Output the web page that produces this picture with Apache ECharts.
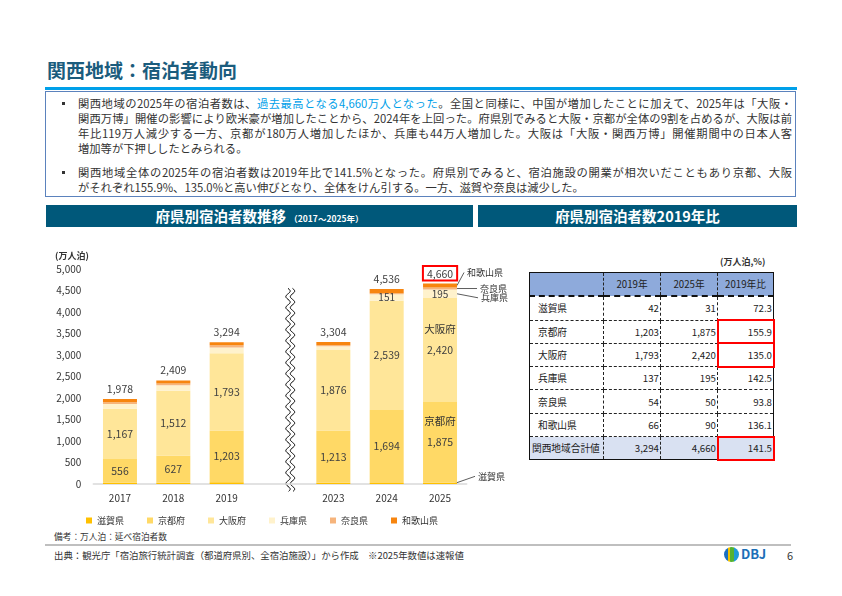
<!DOCTYPE html>
<html>
<head>
<meta charset="utf-8">
<title>関西地域：宿泊者動向</title>
<script src="https://cdn.jsdelivr.net/npm/echarts@6/dist/echarts.min.js"></script>
<style>
    body { margin:0; width:842px; height:596px; position:relative; background:#fff; overflow:hidden;
           font-family:"Noto Sans CJK JP", "Noto Sans", sans-serif; color:#333; }
    .abs { position:absolute; white-space:nowrap; }
    #title { left:47px; top:57px; font-size:19px; line-height:26px; font-weight:bold; color:#1b5c7d; }
    #rule { left:45px; top:87px; width:752px; height:3px; background:#00a0e9; }
    #box { left:45px; top:91px; width:749px; height:104px; border:1px solid #5b82bd; }
    .ln { position:absolute; left:78px; width:714px; font-size:11.3px; line-height:15px; white-space:nowrap;
          text-align:justify; text-align-last:justify; color:#333; }
    .ln.last { text-align-last:left; }
    .hi { color:#00a0e9; }
    .dot { position:absolute; left:62px; width:2.5px; height:2.5px; background:#333; }
    .bar { position:absolute; top:205px; height:22px; background:#00587a; color:#fff; font-weight:bold;
           font-size:14.5px; line-height:22px; text-align:center; white-space:nowrap; }
    .bar small { font-size:8.5px; font-weight:bold; }
    #chart { position:absolute; left:40px; top:240px; width:480px; height:290px; }
    #unit { left:720px; top:255px; font-size:9px; font-weight:bold; line-height:14px; }
    #tbl { position:absolute; left:529px; top:272px; border-collapse:collapse; table-layout:fixed;
           font-size:9.7px; border:1px solid #111; color:#222; }
    #tbl td { height:22.3px; padding:0; border:1px dashed #222; white-space:nowrap; }
    #tbl tr.head td { background:#8eaadb; text-align:center; border-bottom:2px dashed #111; }
    #tbl td.nm { padding-left:8px; }
    #tbl td.num { text-align:right; padding-right:1px; }
    #tbl tr.sum td { background:#d9e1f2; }
    #tbl tr.sum td.nm { padding-left:2px; }
    #tbl td.hl { outline:2px solid #ff0000; outline-offset:-1px; }
    #note { left:54px; top:530px; font-size:8.7px; line-height:14px; }
    #hr { left:45px; top:544px; width:746px; height:2px; background:#bfbfbf; }
    #src { left:54px; top:548px; font-size:9.4px; line-height:14px; }
    #logo { left:724px; top:547px; width:15px; height:15px; border-radius:50%;
            background:linear-gradient(90deg,#1b6fc1 0 30%,#f2c200 30% 42%,#55b230 42% 68%,#1e9bd7 68%); }
    #dbj { left:741px; top:545px; font-size:13px; line-height:18px; font-weight:bold; color:#1c6fb8; }
    #page { left:787px; top:548px; font-size:11px; line-height:14px; }
</style>
</head>
<body>
<div class="abs" id="title">関西地域：宿泊者動向</div>
<div class="abs" id="rule"></div>
<div class="abs" id="box"></div>

<div class="dot" style="top:102px"></div>
<div class="ln" style="top:95.5px">関西地域の2025年の宿泊者数は、<span class="hi">過去最高となる4,660万人となった</span>。全国と同様に、中国が増加したことに加えて、2025年は「大阪・</div>
<div class="ln" style="top:110.5px">関西万博」開催の影響により欧米豪が増加したことから、2024年を上回った。府県別でみると大阪・京都が全体の9割を占めるが、大阪は前</div>
<div class="ln" style="top:125.5px">年比119万人減少する一方、京都が180万人増加したほか、兵庫も44万人増加した。大阪は「大阪・関西万博」開催期間中の日本人客</div>
<div class="ln last" style="top:140.5px">増加等が下押ししたとみられる。</div>
<div class="dot" style="top:171px"></div>
<div class="ln" style="top:164.5px">関西地域全体の2025年の宿泊者数は2019年比で141.5%となった。府県別でみると、宿泊施設の開業が相次いだこともあり京都、大阪</div>
<div class="ln last" style="top:179.5px">がそれぞれ155.9%、135.0%と高い伸びとなり、全体をけん引する。一方、滋賀や奈良は減少した。</div>

<div class="bar" style="left:46px;width:427px">府県別宿泊者数推移 <small>（2017～2025年）</small></div>
<div class="bar" style="left:478px;width:319px">府県別宿泊者数2019年比</div>

<div id="chart"></div>

<div class="abs" id="unit">(万人泊,%)</div>
<table id="tbl">
    <colgroup><col style="width:74px"><col style="width:57px"><col style="width:57px"><col style="width:56px"></colgroup>
    <tbody id="tbody"></tbody>
</table>

<div class="abs" id="note">備考：万人泊：延べ宿泊者数</div>
<div class="abs" id="hr"></div>
<div class="abs" id="src">出典：観光庁「宿泊旅行統計調査（都道府県別、全宿泊施設）」から作成　※2025年数値は速報値</div>
<div class="abs" id="logo"></div>
<div class="abs" id="dbj">DBJ</div>
<div class="abs" id="page">6</div>

<script type="text/javascript">
    // 年次（2019と2023の間は省略の空き枠）
    var years = ['2017', '2018', '2019', '', '2023', '2024', '2025'];
    var shiga    = [27, 30, 42, null, 30, 26, 31];
    var kyoto    = [556, 627, 1203, null, 1213, 1694, 1875];
    var osaka    = [1167, 1512, 1793, null, 1876, 2539, 2420];
    var hyogo    = [110, 125, 137, null, 82, 151, 195];
    var nara     = [43, 45, 54, null, 25, 28, 50];
    var wakayama = [75, 70, 66, null, 78, 98, 90];
    var totals   = [1978, 2409, 3294, null, 3304, 4536, 4660];

    // 表：2019年比
    var prefs = ['滋賀県', '京都府', '大阪府', '兵庫県', '奈良県', '和歌山県', '関西地域合計値'];
    var v2019 = [42, 1203, 1793, 137, 54, 66, 3294];
    var v2025 = [31, 1875, 2420, 195, 50, 90, 4660];
    var ratio = [72.3, 155.9, 135.0, 142.5, 93.8, 136.1, 141.5];
    var marked = [false, true, true, false, false, false, true];

    var names = ['滋賀県', '京都府', '大阪府', '兵庫県', '奈良県', '和歌山県'];
    var colors = ['#ffc000', '#ffd966', '#ffe699', '#fff2cc', '#f6b47c', '#f7850f'];

    function fmt(v) { return v == null ? '' : v.toLocaleString('en-US'); }

    // 表の組み立て
    var rows = '<tr class="head"><td></td><td>2019年</td><td>2025年</td><td>2019年比</td></tr>';
    for (var i = 0; i < prefs.length; i++) {
        rows += '<tr' + (i === prefs.length - 1 ? ' class="sum"' : '') + '>' +
            '<td class="nm">' + prefs[i] + '</td>' +
            '<td class="num">' + fmt(v2019[i]) + '</td>' +
            '<td class="num">' + fmt(v2025[i]) + '</td>' +
            '<td class="num' + (marked[i] ? ' hl' : '') + '">' + ratio[i].toFixed(1) + '</td></tr>';
    }
    document.getElementById('tbody').innerHTML = rows;

    var last = years.length - 1;

    function withName(arr, name) {
        return arr.map(function (v, i) {
            if (i !== last) return v;
            return { value: v, label: { formatter: '{n|' + name + '}\n{v|' + fmt(v) + '}', offset: [0, -10.5] } };
        });
    }

    var myChart = echarts.init(document.getElementById('chart'));
    var option = {
        textStyle: { fontFamily: 'Noto Sans CJK JP' },
        animation: false,
        title: { text: '(万人泊)', left: 10, top: 6, textStyle: { fontSize: 9, fontWeight: 'bold', color: '#333' } },
        legend: {
            data: names, left: 41, top: 271, icon: 'rect', itemWidth: 6, itemHeight: 6, itemGap: 23,
            textStyle: { fontSize: 9, color: '#333' }
        },
        grid: { left: 53.3, right: 53.3, top: 29, bottom: 46 },
        xAxis: {
            type: 'category', data: years,
            axisTick: { show: false },
            axisLine: { lineStyle: { color: '#d9d9d9', width: 1.5 } },
            axisLabel: { fontSize: 10, color: '#333', margin: 9 }
        },
        yAxis: {
            type: 'value', min: 0, max: 5000, interval: 500,
            splitLine: { show: false },
            axisLabel: { fontSize: 10, color: '#333', margin: 12, formatter: fmt }
        },
        series: [
            { name: names[0], type: 'bar', stack: 'all', barWidth: 34, data: shiga },
            { name: names[1], type: 'bar', stack: 'all', data: withName(kyoto, '京都府'),
              label: { show: true, position: 'inside', color: '#404040', fontSize: 10.5,
                       formatter: function (p) { return fmt(p.value); },
                       rich: { n: { fontSize: 10.5, color: '#333', lineHeight: 21 }, v: { fontSize: 10.5, color: '#404040', lineHeight: 21 } } } },
            { name: names[2], type: 'bar', stack: 'all', data: withName(osaka, '大阪府'),
              label: { show: true, position: 'inside', color: '#404040', fontSize: 10.5,
                       formatter: function (p) { return fmt(p.value); },
                       rich: { n: { fontSize: 10.5, color: '#333', lineHeight: 21 }, v: { fontSize: 10.5, color: '#404040', lineHeight: 21 } } } },
            { name: names[3], type: 'bar', stack: 'all', data: hyogo,
              label: { show: true, position: 'inside', color: '#404040', fontSize: 10,
                       formatter: function (p) { return p.value >= 150 ? fmt(p.value) : ''; } } },
            { name: names[4], type: 'bar', stack: 'all', data: nara },
            { name: names[5], type: 'bar', stack: 'all',
              data: wakayama.map(function (v, i) {
                  if (i !== last) return v;
                  return { value: v, label: { borderColor: '#ff0000', borderWidth: 2, padding: [3, 4, 1, 4], distance: 3 } };
              }),
              label: { show: true, position: 'top', distance: 5, color: '#404040', fontSize: 10.5,
                       formatter: function (p) { return fmt(totals[p.dataIndex]); } } }
        ],
        color: colors
    };
    myChart.setOption(option);

    // 省略記号と2025年の府県名注記
    function px(i, v) { return myChart.convertToPixel({ gridIndex: 0 }, [i, v]); }
    var gap = px(3, 0);
    var topY = px(3, 4550)[1];
    var botY = gap[1] + 8;
    var graphic = [];
    [8, 12.5].forEach(function (dx) {
        var pts = [];
        for (var y = topY; y <= botY; y += 1) {
            pts.push([gap[0] + dx + 2.2 * Math.sin((y - topY) / 11 * 2 * Math.PI), y]);
        }
        graphic.push({ type: 'polyline', shape: { points: pts }, style: { stroke: '#000', lineWidth: 1, fill: null } });
    });

    var right = px(last, 0)[0] + 17;
    var top25 = shiga[last] + kyoto[last] + osaka[last] + hyogo[last] + nara[last] + wakayama[last];
    var yWak = px(last, top25 - wakayama[last] / 2)[1];
    var yNara = px(last, top25 - wakayama[last] - nara[last] / 2)[1];
    var yHyo = px(last, top25 - wakayama[last] - nara[last] - hyogo[last] / 2)[1];
    var yShi = px(last, shiga[last] / 2)[1];
    var notes = [
        { name: '和歌山県', a: [right, yWak], b: [right + 7, yWak - 13] },
        { name: '奈良県', a: [right, yNara], b: [right + 20, yNara] },
        { name: '兵庫県', a: [right, yHyo], b: [right + 21, yHyo + 4] },
        { name: '滋賀県', a: [right - 2, yShi], b: [right + 18, yShi - 7] }
    ];
    notes.forEach(function (n) {
        graphic.push({ type: 'line', shape: { x1: n.a[0], y1: n.a[1], x2: n.b[0], y2: n.b[1] },
                       style: { stroke: '#333', lineWidth: 0.8 } });
        graphic.push({ type: 'text', x: n.b[0] + 3, y: n.b[1],
                       style: { text: n.name, fontSize: 9, fill: '#333', align: 'left', verticalAlign: 'middle',
                                fontFamily: 'Noto Sans CJK JP' } });
    });
    myChart.setOption({ graphic: graphic });
</script>
</body>
</html>
